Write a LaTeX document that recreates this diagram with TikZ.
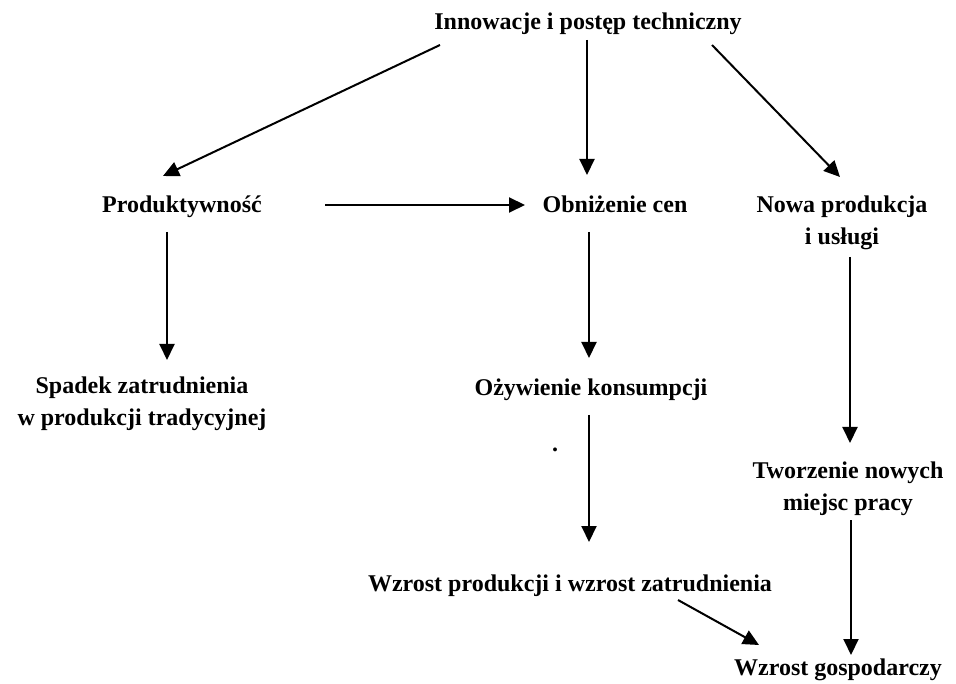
\documentclass[tikz,border=0pt]{standalone}
\usepackage{fontspec}
\setmainfont{Liberation Serif}
\usetikzlibrary{arrows.meta}
\begin{document}
\begin{tikzpicture}[x=1pt,y=-1pt,
  lbl/.style={font=\fontsize{24}{32}\selectfont\bfseries, align=center, inner sep=0pt, anchor=base},
  arr/.style={line width=2pt, -{Triangle[length=16pt,width=15pt]}}]
\useasboundingbox (0,0) rectangle (956,684);
\node[lbl] (innov) at (588,30) {Innowacje i postęp techniczny};
\node[lbl] (prod) at (182,213) {Produktywność};
\node[lbl] (obniz) at (615,213) {Obniżenie cen};
\node[lbl] (nowa) at (842,245) {Nowa produkcja\\i usługi};
\node[lbl] (spadek) at (142,425) {Spadek zatrudnienia\\w produkcji tradycyjnej};
\node[lbl] (ozyw) at (591,396) {Ożywienie konsumpcji};
\node[lbl] (dot) at (555,452) {.};
\node[lbl] (tworz) at (848,510) {Tworzenie nowych\\miejsc pracy};
\node[lbl] (wprod) at (570,591) {Wzrost produkcji i wzrost zatrudnienia};
\node[lbl] (wgosp) at (838,675) {Wzrost gospodarczy};
% connector ends
\coordinate (a1) at (440,45); \coordinate (a2) at (163,176);
\coordinate (b1) at (587,40); \coordinate (b2) at (587,175);
\coordinate (c1) at (712,45); \coordinate (c2) at (840,177);
\coordinate (d1) at (325,205); \coordinate (d2) at (525,205);
\coordinate (e1) at (167,232); \coordinate (e2) at (167,360);
\coordinate (f1) at (589,232); \coordinate (f2) at (589,358);
\coordinate (g1) at (850,257); \coordinate (g2) at (850,443);
\coordinate (h1) at (589,415); \coordinate (h2) at (589,542);
\coordinate (i1) at (678,600); \coordinate (i2) at (759,645);
\coordinate (j1) at (851,520); \coordinate (j2) at (851,655);
\draw[arr] (a1) -- (a2);
\draw[arr] (b1) -- (b2);
\draw[arr] (c1) -- (c2);
\draw[arr] (d1) -- (d2);
\draw[arr] (e1) -- (e2);
\draw[arr] (f1) -- (f2);
\draw[arr] (g1) -- (g2);
\draw[arr] (h1) -- (h2);
\draw[arr] (i1) -- (i2);
\draw[arr] (j1) -- (j2);
\end{tikzpicture}
\end{document}
